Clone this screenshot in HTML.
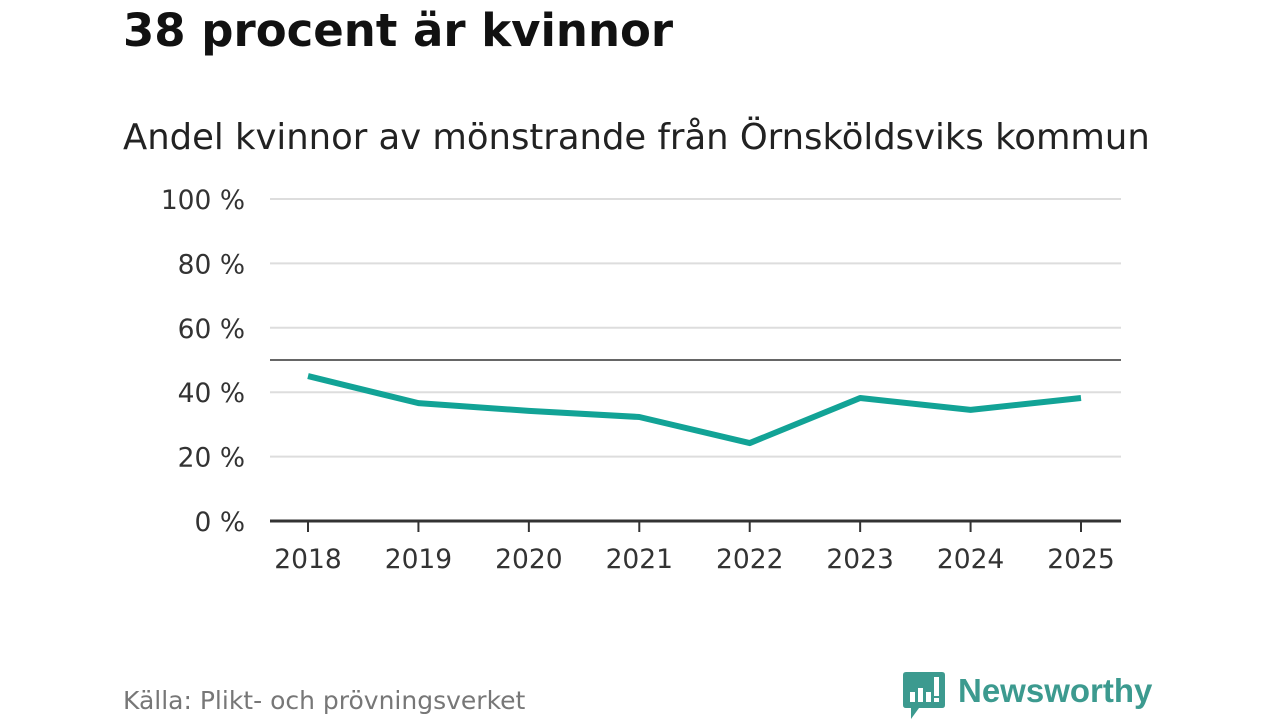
<!DOCTYPE html>
<html><head><meta charset="utf-8"><style>
body{margin:0;width:1280px;height:720px;background:#fff;font-family:"DejaVu Sans","Liberation Sans",sans-serif;overflow:hidden;position:relative}
.t{position:absolute;white-space:nowrap}
</style></head><body>
<div class="t" style="left:123px;top:4px;font-size:45px;font-weight:bold;color:#111">38 procent är kvinnor</div>
<div class="t" style="left:123px;top:117px;font-size:35.4px;color:#222">Andel kvinnor av mönstrande från Örnsköldsviks kommun</div>
<svg id="c" width="1280" height="720" style="position:absolute;left:0;top:0;font-family:'DejaVu Sans',sans-serif"></svg>
<div class="t" style="left:123px;top:686px;font-size:25px;color:#777">Källa: Plikt- och prövningsverket</div>
<div style="position:absolute;left:903px;top:672px">
<svg width="42" height="48" style="position:absolute;left:0;top:0"><path d="M3 0H39Q42 0 42 3V33Q42 36 39 36H16L8 47V36H3Q0 36 0 33V3Q0 0 3 0Z" fill="#3c9a8f"/><rect x="7" y="20" width="5" height="10" fill="#fff"/><rect x="15" y="16" width="5" height="14" fill="#fff"/><rect x="23" y="20" width="5" height="10" fill="#fff"/><rect x="31" y="5" width="5" height="19" fill="#fff"/><rect x="31" y="26" width="5" height="4" fill="#fff"/></svg>
<div class="t" style="left:55px;top:0px;font-size:33px;font-weight:bold;color:#3c9a8f;font-family:'Liberation Sans',sans-serif">Newsworthy</div></div>
<script>
const years=["2018","2019","2020","2021","2022","2023","2024","2025"];
const values=[45,36.6,34.2,32.3,24.2,38.2,34.5,38.2];
const yTicks=[0,20,40,60,80,100];
const refValue=50;
const NS="http://www.w3.org/2000/svg",s=document.getElementById('c');
const y=v=>521-v*3.22, x=i=>308+i*110.43;
function el(t,a){const e=document.createElementNS(NS,t);for(const k in a)e.setAttribute(k,a[k]);s.appendChild(e);return e;}
yTicks.forEach(v=>{
 if(v>0){const g=el('line',{x1:270,x2:1121,y1:y(v),y2:y(v),stroke:'#ddd','stroke-width':2});
 
 }
 const t=el('text',{x:245,y:y(v)+10,'text-anchor':'end','font-size':26.5,fill:'#333'});t.textContent=v+' %';
 
 
});
const r=el('line',{x1:270,x2:1121,y1:y(refValue),y2:y(refValue),stroke:'#666','stroke-width':2});


const ax=el('line',{x1:270,x2:1121,y1:521,y2:521,stroke:'#333','stroke-width':3});


years.forEach((yr,i)=>{
 el('line',{x1:x(i),x2:x(i),y1:521,y2:532,stroke:'#333','stroke-width':2});
 const t=el('text',{x:x(i),y:568,'text-anchor':'middle','font-size':26.5,fill:'#333'});t.textContent=yr;
 
 
});
const p=el('polyline',{points:values.map((v,i)=>x(i)+','+y(v)).join(' '),fill:'none',stroke:'#12a396','stroke-width':6,'stroke-linejoin':'round'});


</script>
</body></html>
